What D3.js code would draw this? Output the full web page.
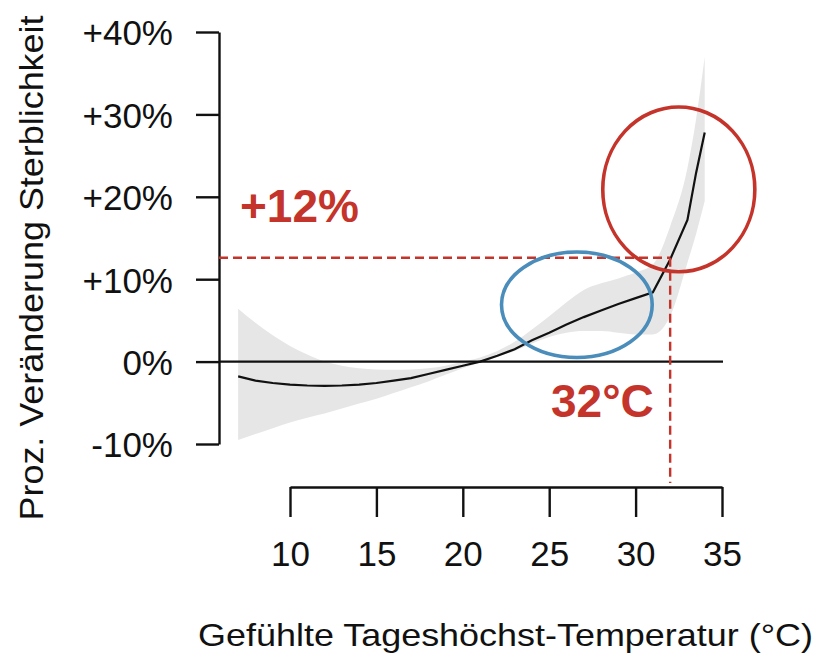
<!DOCTYPE html>
<html>
<head>
<meta charset="utf-8">
<script src="https://cdn.jsdelivr.net/npm/d3@7"></script>
<style>
  body { margin: 0; background: #fff; }
  svg { display: block; font-family: "Liberation Sans", Arial, sans-serif; }
</style>
</head>
<body>
<div id="chart"></div>
<script>
// Temperature grid (°C) and estimated effect in % change of mortality
const temps  = [7, 8, 9, 10, 11, 12, 13, 14, 15, 16, 17, 18, 19, 20, 21, 22, 23, 24, 25, 26, 27, 28, 29, 30, 31, 32, 33, 33.5, 34];
const effect = [-1.8, -2.3, -2.6, -2.8, -2.9, -2.95, -2.9, -2.8, -2.6, -2.3, -2.0, -1.5, -1.0, -0.5, 0.0, 0.7, 1.5, 2.6, 3.5, 4.5, 5.4, 6.2, 7.0, 7.7, 8.4, 12.4, 17.2, 22.9, 27.8];
const lower  = [-9.5, -8.8, -8.1, -7.4, -6.8, -6.3, -5.7, -5.1, -4.5, -3.8, -3.1, -2.4, -1.6, -0.8, -0.1, 0.6, 1.3, 2.2, 3.0, 3.5, 3.7, 3.7, 3.5, 3.3, 3.3, 5.5, 12.0, 15.5, 19.5];
const upper  = [6.4, 4.7, 3.2, 1.9, 0.85, 0.0, -0.5, -0.8, -0.95, -1.0, -0.95, -0.8, -0.5, 0.0, 0.5, 1.3, 2.4, 3.9, 5.5, 7.2, 8.7, 9.5, 10.1, 10.8, 11.8, 16.4, 23.5, 29.4, 37.0];

const xTicks = [10, 15, 20, 25, 30, 35];
const yTicks = [-10, 0, 10, 20, 30, 40];
const yTickLabels = ["-10%", "0%", "+10%", "+20%", "+30%", "+40%"];

// annotation: threshold temperature and effect
const refTemp = 32;
const refValue = 12.6;
// highlight ellipses: [temp centre, value centre, temp radius, value radius]
const redEllipse = [32.5, 20.9, 4.4, 10.0];
const blueEllipse = [26.6, 6.9, 4.36, 6.4];

const width = 821, height = 658;
const axisX = 219, axisY = 487;

const svg = d3.select("#chart")
    .append("svg")
    .attr("width", width)
    .attr("height", height);

const x = d3.scaleLinear().domain([10, 35]).range([290, 722]);
const y = d3.scaleLinear().domain([-10, 40]).range([444, 32]);

const pts = temps.map((t, i) => ({ t: t, v: effect[i], lo: lower[i], hi: upper[i] }));

// confidence band
svg.append("path")
    .datum(pts)
    .attr("fill", "#e6e6e6")
    .attr("d", d3.area()
        .x(d => x(d.t))
        .y0(d => y(d.lo))
        .y1(d => y(d.hi))
        .curve(d3.curveMonotoneX));

// zero line
svg.append("line")
    .attr("x1", axisX).attr("x2", x(35) + 1)
    .attr("y1", y(0)).attr("y2", y(0))
    .attr("stroke", "#111").attr("stroke-width", 2.2);

// effect curve
svg.append("path")
    .datum(pts)
    .attr("fill", "none")
    .attr("stroke", "#111")
    .attr("stroke-width", 2.2)
    .attr("d", d3.line()
        .x(d => x(d.t))
        .y(d => y(d.v)));

// y axis
const yAxis = svg.append("g")
    .attr("transform", `translate(${axisX},0)`)
    .call(d3.axisLeft(y).tickValues(yTicks)
        .tickFormat((d, i) => yTickLabels[i])
        .tickSize(23).tickSizeOuter(0).tickPadding(23));
yAxis.selectAll("path, line").attr("stroke", "#111").attr("stroke-width", 2.4);
yAxis.selectAll("text")
    .attr("font-size", 35)
    .attr("fill", "#111")
    .attr("font-family", "Liberation Sans, Arial, sans-serif")
    .attr("dy", "0.37em");

// x axis
const xAxis = svg.append("g")
    .attr("transform", `translate(0,${axisY})`)
    .call(d3.axisBottom(x).tickValues(xTicks)
        .tickSize(30).tickSizeOuter(0).tickPadding(24));
xAxis.selectAll("path, line").attr("stroke", "#111").attr("stroke-width", 2.4);
xAxis.selectAll("text")
    .attr("font-size", 35)
    .attr("fill", "#111")
    .attr("font-family", "Liberation Sans, Arial, sans-serif");

// dashed reference lines
const red = "#c4342a";
svg.append("line")
    .attr("x1", axisX).attr("x2", x(refTemp))
    .attr("y1", y(refValue)).attr("y2", y(refValue))
    .attr("stroke", red).attr("stroke-width", 2.4)
    .attr("stroke-dasharray", "9,5");
svg.append("line")
    .attr("x1", x(refTemp)).attr("x2", x(refTemp))
    .attr("y1", y(refValue)).attr("y2", axisY - 4)
    .attr("stroke", red).attr("stroke-width", 2.4)
    .attr("stroke-dasharray", "9,5");

// ellipses
[[redEllipse, red], [blueEllipse, "#4a8cba"]].forEach(([e, c]) => {
    svg.append("ellipse")
        .attr("cx", x(e[0])).attr("cy", y(e[1]))
        .attr("rx", x(e[0] + e[2]) - x(e[0]))
        .attr("ry", y(e[1]) - y(e[1] + e[3]))
        .attr("fill", "none")
        .attr("stroke", c)
        .attr("stroke-width", 3.6);
});

// annotation labels
svg.append("text")
    .attr("x", 240).attr("y", 222)
    .attr("font-size", 46).attr("font-weight", "bold")
    .attr("fill", red)
    .text("+12%");
svg.append("text")
    .attr("x", 551).attr("y", 417)
    .attr("font-size", 46).attr("font-weight", "bold")
    .attr("fill", red)
    .text("32°C");

// axis titles
svg.append("text")
    .attr("x", 198).attr("y", 646)
    .attr("font-size", 32)
    .attr("fill", "#111")
    .attr("textLength", 615)
    .attr("lengthAdjust", "spacingAndGlyphs")
    .text("Gefühlte Tageshöchst-Temperatur (°C)");

svg.append("text")
    .attr("transform", "translate(43,268) rotate(-90)")
    .attr("text-anchor", "middle")
    .attr("font-size", 33)
    .attr("fill", "#111")
    .attr("textLength", 505)
    .attr("lengthAdjust", "spacingAndGlyphs")
    .text("Proz. Veränderung Sterblichkeit");
</script>
</body>
</html>
